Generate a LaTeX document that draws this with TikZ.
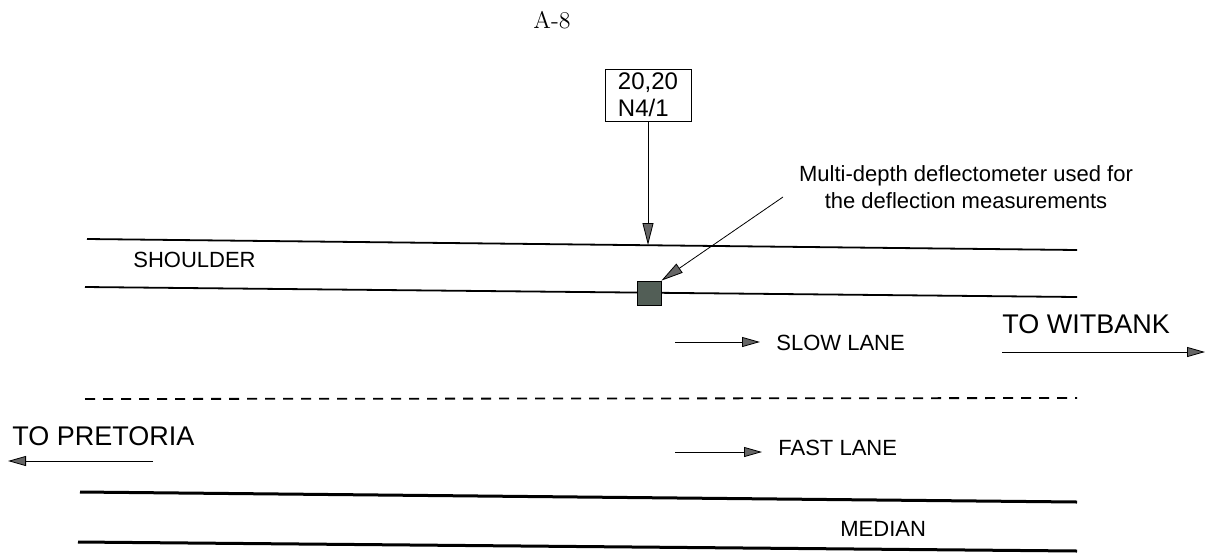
\documentclass[tikz,border=0pt]{standalone}
\usepackage{fontspec}
\setsansfont{Liberation Sans}
\usetikzlibrary{arrows.meta,calc}

\definecolor{gauge}{RGB}{82,94,86}

\tikzset{
  road/.style={line width=0.9pt},
  edge/.style={line width=1.5pt},
  tip/.style={-{Triangle[length=9pt,width=5pt,fill=black!60]}},
  bigtip/.style={-{Triangle[length=11pt,width=5.5pt,fill=black!60]}},
  label/.style={font=\sffamily\fontsize{11}{13}\selectfont,inner sep=0pt,anchor=base west},
  dir/.style={font=\sffamily\fontsize{13.5}{16}\selectfont,inner sep=0pt,anchor=base west}
}

\begin{document}
\begin{tikzpicture}[x=0.5pt,y=-0.5pt]
\useasboundingbox (0,0) rectangle (1211,553);

\node[font=\fontsize{12}{14}\selectfont] (page) at (552,20) {A-8};

% road edges
\draw[road] (87,239) -- (1077,250);
\draw[road] (85,287) -- (1077,297);
\draw[road,dash pattern=on 5pt off 4pt] (85,399) -- (1077,398);
\draw[edge] (80,492) -- (1077,502);
\draw[edge] (78,542) -- (1077,551);

% station marker
\node[draw,font=\sffamily\fontsize{12}{11.5}\selectfont,align=left,
      minimum width=43pt,minimum height=26pt,inner xsep=3.5pt,inner ysep=1pt] (station) at (648,95)
  {20,20\\[2pt]N4/1};
\coordinate (mark) at (648,245);
\draw[bigtip] (station) -- (mark);

% deflectometer
\node[draw,fill=gauge,minimum size=12pt,inner sep=0pt] (mdd) at (649,293) {};
\node[font=\sffamily\fontsize{11}{13.5}\selectfont,align=center] (note) at (966,187)
  {Multi-depth deflectometer used for\\the deflection measurements};
\coordinate (lead) at (783,197);
\draw[bigtip] (lead) -- (mdd.north east);

\node[label] at (133,267) {SHOULDER};

% lanes
\node[label] (slow) at (776,350) {SLOW LANE};
\node[label] (fast) at (778,455) {FAST LANE};
\node[label] (median) at (840,536) {MEDIAN};
\coordinate (s0) at (675,342);
\coordinate (s1) at (760,342);
\coordinate (f0) at (675,452);
\coordinate (f1) at (762,452);
\draw[tip] (s0) -- (s1);
\draw[tip] (f0) -- (f1);

% directions
\node[dir] (witbank) at (1002,333) {TO WITBANK};
\node[dir] (pretoria) at (12,445) {TO PRETORIA};
\coordinate (w0) at (1002,352);
\coordinate (w1) at (1205,352);
\coordinate (p0) at (153,461);
\coordinate (p1) at (8,461);
\draw[tip] (w0) -- (w1);
\draw[tip] (p0) -- (p1);
\end{tikzpicture}
\end{document}
